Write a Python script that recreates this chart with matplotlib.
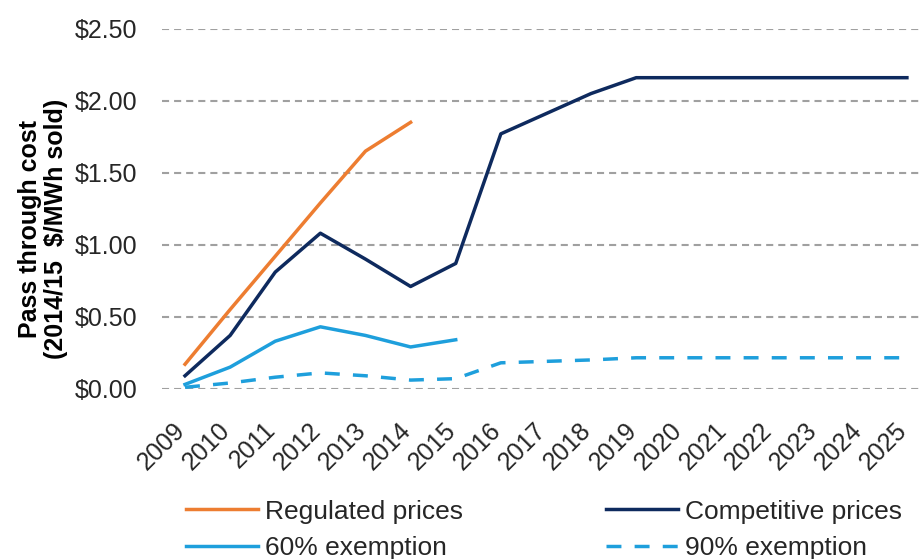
import matplotlib
matplotlib.use("Agg")
import matplotlib.pyplot as plt
from matplotlib.transforms import ScaledTranslation

plt.rcParams['font.family'] = ['Liberation Sans', 'DejaVu Sans']

# data ($/MWh sold, 2014/15 dollars)
years = list(range(2009, 2026))
regulated = [0.17, 0.55, 0.92, 1.29, 1.65, 1.85]
competitive = [0.09, 0.37, 0.81, 1.08, 0.90, 0.71, 0.87, 1.77, 1.91, 2.05, 2.16,
               2.16, 2.16, 2.16, 2.16, 2.16, 2.16]
exempt60 = [0.03, 0.15, 0.33, 0.43, 0.37, 0.29, 0.34]
exempt90 = [0.01, 0.04, 0.08, 0.11, 0.09, 0.06, 0.07, 0.18, 0.19, 0.20, 0.215,
            0.215, 0.215, 0.215, 0.215, 0.215, 0.215]
yticks = [0, 0.5, 1.0, 1.5, 2.0, 2.5]

orange = '#ED7D31'
navy = '#0E2A5E'
blue = '#1E9FDC'
txt = '#262626'

fig = plt.figure(figsize=(9.22, 5.59), dpi=100)
# axes runs a bit past the right edge, like the cropped original
ax = fig.add_axes([0.1762, 0.3046, 0.8319, 0.644])

ax.plot(years[:len(regulated)], regulated, color=orange, lw=2.5, label='Regulated prices')
ax.plot(years[:len(exempt60)], exempt60, color=blue, lw=2.5, label='60% exemption')
ax.plot(years, competitive, color=navy, lw=2.5, label='Competitive prices')
ax.plot(years, exempt90, color=blue, lw=2.5, dashes=(4.3, 3.8), label='90% exemption')

ax.set_xlim(2008.5, 2025.5)
ax.set_ylim(0, 2.5)
ax.set_yticks(yticks)
ax.set_yticklabels(['$%.2f' % v for v in yticks])
ax.set_xticks(years)
ax.set_xticklabels([str(y) for y in years], rotation=45, ha='right')

ax.tick_params(axis='y', length=0, pad=18, labelsize=18, labelcolor=txt)
ax.tick_params(axis='x', length=0, pad=21, labelsize=18, labelcolor=txt)
# nudge the slanted year labels a little to the right
shift = ScaledTranslation(5 / 100, 0, fig.dpi_scale_trans)
for lab in ax.get_xticklabels():
    lab.set_transform(lab.get_transform() + shift)
for s in ax.spines.values():
    s.set_visible(False)

ax.grid(axis='y', color='#A0A0A0', lw=1.5, dashes=(3.4, 2.4))
ax.set_axisbelow(True)

ax.set_ylabel('Pass through cost\n(2014/15  $/MWh sold)', fontsize=18,
              fontweight='bold', color='black', linespacing=1.1)
ax.yaxis.set_label_coords(-0.1235, 0.444)

h, l = ax.get_legend_handles_labels()
fig.legend(h, l, ncol=2, loc='center', bbox_to_anchor=(0.59, 0.052),
           frameon=False, fontsize=19, handlelength=2.73, handletextpad=0.27,
           columnspacing=5.4, labelspacing=0.48, borderpad=0, labelcolor=txt)

fig.savefig('out.png', dpi=100)
